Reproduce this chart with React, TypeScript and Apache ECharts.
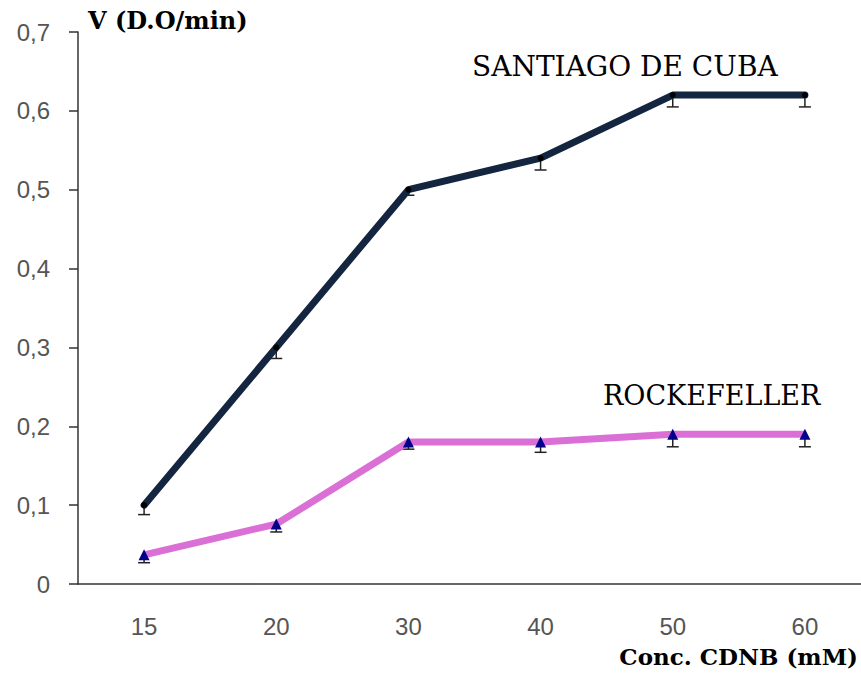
import React, { useEffect, useRef } from "react";
import * as echarts from "echarts";

const categories = ["15", "20", "30", "40", "50", "60"];
const santiagoValues = [0.1, 0.3, 0.5, 0.54, 0.62, 0.62];
const santiagoErrors = [0.012, 0.014, 0.007, 0.015, 0.015, 0.015];
const rockefellerValues = [0.037, 0.076, 0.18, 0.18, 0.19, 0.19];
const rockefellerErrors = [0.01, 0.01, 0.009, 0.013, 0.016, 0.016];
const yTicks = [0, 0.1, 0.2, 0.3, 0.4, 0.5, 0.6, 0.7];

const serif = "'DejaVu Serif', 'Liberation Serif', serif";
const sans = "'Liberation Sans', Arial, sans-serif";

function errorSeries(name: string, values: number[], errors: number[]) {
  return {
    name,
    type: "custom",
    z: 1,
    silent: true,
    data: values.map((v, i) => [i, v, v - errors[i]]),
    renderItem: (params: any, api: any) => {
      const top = api.coord([api.value(0), api.value(1)]);
      const bottom = api.coord([api.value(0), api.value(2)]);
      const half = 6;
      const style = { stroke: "#222", lineWidth: 1.5 };
      return {
        type: "group",
        children: [
          { type: "line", shape: { x1: top[0], y1: top[1], x2: bottom[0], y2: bottom[1] }, style },
          { type: "line", shape: { x1: bottom[0] - half, y1: bottom[1], x2: bottom[0] + half, y2: bottom[1] }, style },
        ],
      };
    },
  };
}

export default function App() {
  const ref = useRef<HTMLDivElement>(null);
  useEffect(() => {
    document.body.style.margin = "0";
    document.body.style.overflow = "hidden";
    document.documentElement.style.overflow = "hidden";
    const chart = echarts.init(ref.current!, null, { renderer: "svg" });
    chart.setOption({
      animation: false,
      backgroundColor: "#ffffff",
      grid: { left: 78, top: 32, right: 0, bottom: 93 },
      xAxis: {
        type: "category",
        data: categories,
        boundaryGap: true,
        axisLine: { lineStyle: { color: "#333", width: 1.5 } },
        axisTick: { length: 9, lineStyle: { color: "#333", width: 1.5 } },
        axisLabel: { fontFamily: sans, fontSize: 24, color: "#555", margin: 30 },
      },
      yAxis: {
        type: "value",
        min: 0,
        max: 0.7,
        interval: 0.1,
        splitLine: { show: false },
        axisLine: { show: true, lineStyle: { color: "#333", width: 1.5 } },
        axisTick: { show: true, length: 9, lineStyle: { color: "#333", width: 1.5 } },
        axisLabel: {
          fontFamily: sans,
          fontSize: 24,
          color: "#555",
          margin: 28,
          formatter: (v: number) => {
            const t = yTicks.find((x) => Math.abs(x - v) < 1e-9);
            const val = t === undefined ? v : t;
            return val === 0 ? "0" : val.toFixed(1).replace(".", ",");
          },
        },
      },
      series: [
        errorSeries("err-santiago", santiagoValues, santiagoErrors),
        errorSeries("err-rockefeller", rockefellerValues, rockefellerErrors),
        {
          name: "SANTIAGO DE CUBA",
          type: "line",
          z: 3,
          data: santiagoValues,
          symbol: "circle",
          symbolSize: 6,
          itemStyle: { color: "#000000" },
          lineStyle: { color: "#13253f", width: 7, cap: "round", join: "round" },
        },
        {
          name: "ROCKEFELLER",
          type: "line",
          z: 3,
          data: rockefellerValues,
          symbol: "triangle",
          symbolSize: 11,
          itemStyle: { color: "#00008b" },
          lineStyle: { color: "#da70d6", width: 7, join: "round" },
        },
      ],
      graphic: [
        { type: "text", x: 88, y: 20, style: { text: "V (D.O/min)", font: `bold 24px ${serif}`, fill: "#000", verticalAlign: "middle" } },
        { type: "text", x: 472, y: 66, style: { text: "SANTIAGO DE CUBA", font: `28px ${serif}`, fill: "#000", verticalAlign: "middle" } },
        { type: "text", x: 603, y: 395, style: { text: "ROCKEFELLER", font: `27px ${serif}`, fill: "#000", verticalAlign: "middle" } },
        { type: "text", x: 858, y: 656, style: { text: "Conc. CDNB (mM)", font: `bold 23px ${serif}`, fill: "#000", align: "right", verticalAlign: "middle" } },
      ],
    });
    return () => chart.dispose();
  }, []);
  return <div ref={ref} style={{ width: 871, height: 677 }} />;
}
